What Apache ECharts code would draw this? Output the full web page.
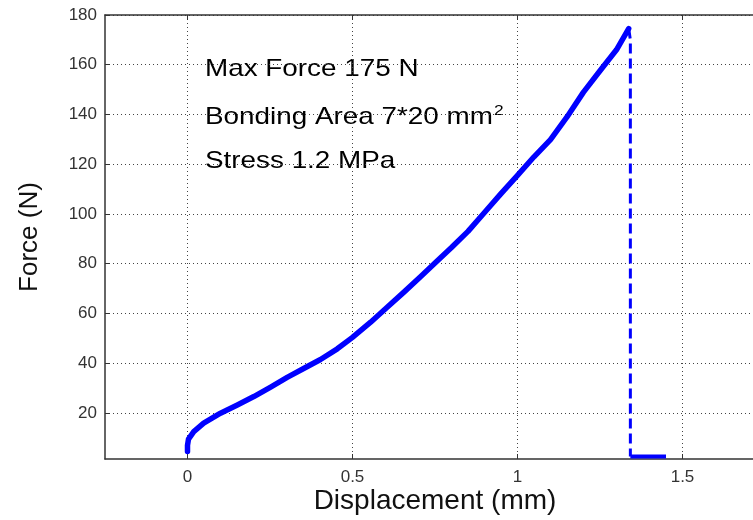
<!DOCTYPE html>
<html>
<head>
<meta charset="utf-8">
<script src="https://cdn.jsdelivr.net/npm/echarts@6/dist/echarts.min.js"></script>
<style>
html,body{margin:0;padding:0;background:#fff;}
#chart{width:753px;height:520px;}
</style>
</head>
<body>
<div id="chart"></div>
<script>
// Data
const xTickValues = [0, 0.5, 1, 1.5];
const yTickValues = [20, 40, 60, 80, 100, 120, 140, 160, 180];
// loading curve (displacement mm, force N)
const curveX = [0, 0, 0.003, 0.019, 0.049, 0.1, 0.151, 0.201, 0.252, 0.302, 0.352, 0.403, 0.454, 0.499, 0.555, 0.605, 0.655, 0.706, 0.75, 0.8, 0.85, 0.9, 0.95, 1.0, 1.05, 1.1, 1.15, 1.2, 1.25, 1.3, 1.337];
const curveY = [4.5, 7, 9.5, 12.5, 15.9, 19.9, 23.2, 26.6, 30.4, 34.3, 37.9, 41.5, 45.8, 50.3, 56.5, 62.5, 68.5, 74.8, 80.3, 86.5, 93.0, 100.6, 108.2, 115.5, 123.0, 129.9, 139.0, 149.0, 157.6, 166.0, 174.5];
// failure drop (dashed)
const dropX = [1.337, 1.342, 1.342];
const dropY = [174.5, 170, 2.5];
// residual after failure
const tailX = [1.342, 1.45];
const tailY = [2.5, 2.5];
const annotations = ['Max Force 175 N', 'Bonding Area 7*20 mm', 'Stress 1.2 MPa'];

const zip = (a, b) => a.map((v, i) => [v, b[i]]);
const FONT = '"Liberation Sans", Arial, sans-serif';
const chart = echarts.init(document.getElementById('chart'), null, {renderer: 'canvas'});

const gridLine = {show: true, lineStyle: {color: '#444', width: 1, type: [1, 3]}};
const tick = (vals) => ({show: true, inside: true, length: 5, customValues: vals, lineStyle: {color: '#333'}});
chart.setOption({
  animation: false,
  backgroundColor: '#fff',
  grid: {left: 105, top: 15, right: -12, bottom: 61, outerBoundsMode: 'none', containLabel: false},
  xAxis: [{
    type: 'value', min: -0.25, max: 1.75,
    name: 'Displacement (mm)', nameLocation: 'middle', nameGap: 28, nameMoveOverlap: false,
    nameTextStyle: {fontFamily: FONT, fontSize: 28, color: '#111'},
    axisLine: {show: true, onZero: false, lineStyle: {color: '#333', width: 1.5}},
    axisTick: tick(xTickValues),
    axisLabel: {fontFamily: FONT, fontSize: 17, color: '#333', margin: 10, customValues: xTickValues},
    splitLine: Object.assign({customValues: xTickValues}, gridLine)
  }, {
    type: 'value', position: 'top', min: -0.25, max: 1.75,
    axisLine: {show: true, onZero: false, lineStyle: {color: '#333', width: 1.5}},
    axisTick: tick(xTickValues),
    axisLabel: {show: false}, splitLine: {show: false}
  }],
  yAxis: {
    type: 'value', min: 1.5, max: 180,
    name: 'Force (N)', nameLocation: 'middle', nameGap: 62, nameMoveOverlap: false,
    nameTextStyle: {fontFamily: FONT, fontSize: 26, color: '#111'},
    axisLine: {show: true, onZero: false, lineStyle: {color: '#333', width: 1.5}},
    axisTick: tick(yTickValues),
    axisLabel: {fontFamily: FONT, fontSize: 17, color: '#333', margin: 8, customValues: yTickValues},
    splitLine: Object.assign({customValues: yTickValues}, gridLine)
  },
  series: [{
    type: 'line', data: zip(curveX, curveY), showSymbol: false, smooth: false,
    lineStyle: {color: '#0000ff', width: 5.5, cap: 'round', join: 'round'}, z: 3
  }, {
    type: 'line', data: zip(dropX, dropY), showSymbol: false,
    lineStyle: {color: '#0000ff', width: 3, type: [10, 5]}, z: 3
  }, {
    type: 'line', data: zip(tailX, tailY), showSymbol: false,
    lineStyle: {color: '#0000ff', width: 4}, z: 3
  }],
  graphic: [
    {type: 'text', x: 205, y: 57, scaleX: 1.16, style: {text: annotations[0], font: '24px ' + FONT, fill: '#000'}},
    {type: 'text', x: 205, y: 103, scaleX: 1.16, style: {text: '{a|' + annotations[1] + '}{s|2}', rich: {a: {fontFamily: FONT, fontSize: 24, color: '#000'}, s: {fontFamily: FONT, fontSize: 15, color: '#000', verticalAlign: 'top', padding: [0, 0, 14, 1]}}}},
    {type: 'text', x: 205, y: 149, scaleX: 1.16, style: {text: annotations[2], font: '24px ' + FONT, fill: '#000'}}
  ]
});
</script>
</body>
</html>
